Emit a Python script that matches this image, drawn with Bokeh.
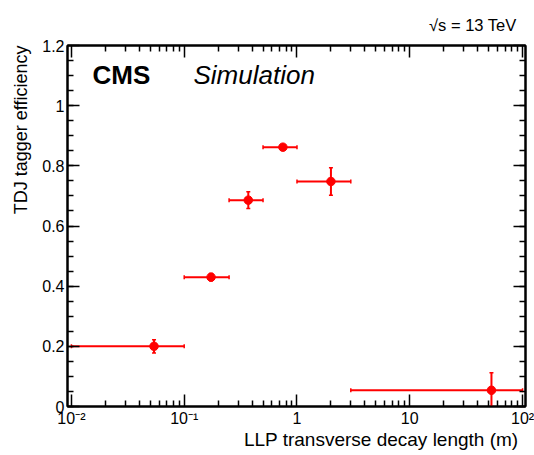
from bokeh.plotting import figure
from bokeh.models import (FixedTicker, LinearAxis, LogAxis, Title, Label, Whisker,
                          TeeHead, ColumnDataSource, Range1d)
from bokeh.embed import file_html
from bokeh.resources import INLINE

# ---- data ----
decay_length = [0.054, 0.173, 0.37, 0.75, 2.0, 53.0]     # LLP transverse decay length (m)
bin_low = [0.01, 0.1, 0.25, 0.5, 1.0, 3.0]
bin_high = [0.1, 0.25, 0.5, 1.0, 3.0, 100.0]
efficiency = [0.200, 0.430, 0.686, 0.862, 0.748, 0.054]
eff_err = [0.022, 0.012, 0.028, 0.006, 0.046, 0.058]

x_major = [0.01, 0.1, 1.0, 10.0, 100.0]
x_labels = {0.01: "10⁻²", 0.1: "10⁻¹", 1.0: "1", 10.0: "10", 100.0: "10²"}
x_minor = [m * d for d in [0.01, 0.1, 1.0, 10.0] for m in range(2, 10)]
y_major = [0.0, 0.2, 0.4, 0.6, 0.8, 1.0, 1.2]
y_labels = {0.0: "0", 0.2: "0.2", 0.4: "0.4", 0.6: "0.6", 0.8: "0.8", 1.0: "1", 1.2: "1.2"}
y_minor = [i * 0.05 for i in range(25)]

FONT = "Liberation Sans"

src = ColumnDataSource(dict(
    x=decay_length, y=efficiency, xl=bin_low, xh=bin_high,
    yl=[max(0.0, e - d) for e, d in zip(efficiency, eff_err)],
    yh=[e + d for e, d in zip(efficiency, eff_err)],
))

p = figure(width=534, height=455, x_axis_type="log",
           x_range=Range1d(0.00923, 106.2), y_range=Range1d(0, 1.2),
           output_backend="svg", toolbar_location=None,
           min_border_left=64, min_border_right=9, min_border_top=45, min_border_bottom=49)
p.grid.visible = False
p.outline_line_color = "black"
p.outline_line_width = 2
p.background_fill_color = "white"
p.border_fill_color = "white"

def style_axis(ax, ticks, minor, labels, show):
    ax.ticker = FixedTicker(ticks=ticks, minor_ticks=minor)
    ax.major_tick_in = 12
    ax.major_tick_out = 0
    ax.minor_tick_in = 6
    ax.minor_tick_out = 0
    ax.major_tick_line_width = 1.5
    ax.minor_tick_line_width = 1.5
    ax.axis_line_width = 2
    ax.axis_line_color = "black"
    ax.major_label_overrides = labels
    if show:
        ax.major_label_text_font = FONT
        ax.major_label_text_font_size = "16px"
        ax.major_label_text_color = "black"
        ax.major_label_standoff = 3
    else:
        ax.major_label_text_font_size = "1px"
        ax.major_label_text_color = None
        ax.major_label_standoff = 0

style_axis(p.xaxis[0], x_major, x_minor, x_labels, True)
style_axis(p.yaxis[0], y_major, y_minor, y_labels, True)
top = LogAxis()
style_axis(top, x_major, x_minor, x_labels, False)
right = LinearAxis()
style_axis(right, y_major, y_minor, y_labels, False)
p.add_layout(top, "above")
p.add_layout(right, "right")

p.add_layout(Whisker(source=src, base="y", lower="xl", upper="xh", dimension="width",
                     line_color="red", line_width=2,
                     lower_head=TeeHead(size=4, line_color="red", line_width=1.5),
                     upper_head=TeeHead(size=4, line_color="red", line_width=1.5)))
p.add_layout(Whisker(source=src, base="x", lower="yl", upper="yh", dimension="height",
                     line_color="red", line_width=2,
                     lower_head=TeeHead(size=4, line_color="red", line_width=1.5),
                     upper_head=TeeHead(size=4, line_color="red", line_width=1.5)))
p.scatter("x", "y", source=src, size=8.5, color="red")

# axis titles placed as side titles, right/top aligned like ROOT
p.add_layout(Title(text="LLP transverse decay length (m)", align="right", offset=7,
                   text_font=FONT, text_font_size="19px", text_font_style="normal",
                   text_color="black", standoff=-6), "below")
p.add_layout(Title(text="TDJ tagger efficiency", align="right", offset=0,
                   text_font=FONT, text_font_size="18px", text_font_style="normal",
                   text_color="black", standoff=17), "left")
p.add_layout(Title(text="√s = 13 TeV", align="right", offset=9,
                   text_font=FONT, text_font_size="16.5px", text_font_style="normal",
                   text_color="black", standoff=23), "above")

p.add_layout(Label(x=25, y=332, x_units="screen", y_units="screen", text="CMS",
                   text_font=FONT, text_font_size="26px", text_font_style="bold",
                   text_color="black", text_baseline="alphabetic"))
p.add_layout(Label(x=126, y=332, x_units="screen", y_units="screen", text="Simulation",
                   text_font=FONT, text_font_size="26px", text_font_style="italic",
                   text_color="black", text_baseline="alphabetic"))

open("out.html", "w").write(file_html(p, INLINE))
